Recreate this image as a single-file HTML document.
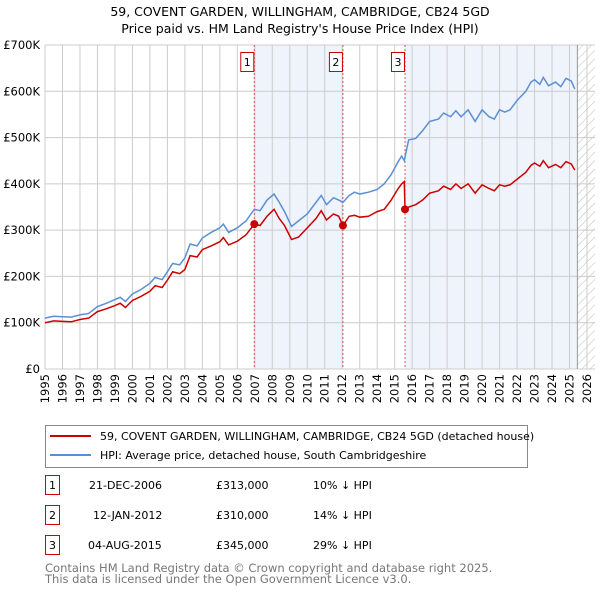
<!DOCTYPE html>
<html><head><meta charset="utf-8"><style>
body{margin:0;background:#fff;font-family:"Liberation Sans","DejaVu Sans",sans-serif;}
svg text{font-family:"DejaVu Sans","Liberation Sans",sans-serif;}
</style></head><body>
<svg id="chart" width="600" height="590" xmlns="http://www.w3.org/2000/svg">
<defs><pattern id="hatch" width="6" height="6" patternUnits="userSpaceOnUse" patternTransform="rotate(45)"><line x1="0" y1="0" x2="0" y2="6" stroke="#bbb" stroke-width="1"/></pattern></defs>
<text x="300" y="16" text-anchor="middle" font-size="12.5">59, COVENT GARDEN, WILLINGHAM, CAMBRIDGE, CB24 5GD</text>
<text x="300" y="33" text-anchor="middle" font-size="12.5">Price paid vs. HM Land Registry's House Price Index (HPI)</text>
<g id="plot"></g>
<g>
<rect x="45.5" y="425.5" width="482" height="42" fill="#fff" stroke="#888"/>
<line x1="50" y1="436" x2="91" y2="436" stroke="#cc0000" stroke-width="2"/>
<text x="100" y="440" font-size="11">59, COVENT GARDEN, WILLINGHAM, CAMBRIDGE, CB24 5GD (detached house)</text>
<line x1="50" y1="455" x2="91" y2="455" stroke="#5b8fd4" stroke-width="2"/>
<text x="100" y="459" font-size="11">HPI: Average price, detached house, South Cambridgeshire</text>
</g>
<g font-size="11">
<rect x="45.5" y="475.5" width="14" height="19" fill="none" stroke="#cc0000"/><text x="52.5" y="489" text-anchor="middle">1</text>
<text x="89" y="489">21-DEC-2006</text><text x="216" y="489">£313,000</text><text x="313" y="489">10% ↓ HPI</text>
<rect x="45.5" y="505.5" width="14" height="19" fill="none" stroke="#cc0000"/><text x="52.5" y="519" text-anchor="middle">2</text>
<text x="93" y="519">12-JAN-2012</text><text x="216" y="519">£310,000</text><text x="313" y="519">14% ↓ HPI</text>
<rect x="45.5" y="535.5" width="14" height="19" fill="none" stroke="#cc0000"/><text x="52.5" y="549" text-anchor="middle">3</text>
<text x="88" y="549">04-AUG-2015</text><text x="216" y="549">£345,000</text><text x="313" y="549">29% ↓ HPI</text>
</g>
<text x="45" y="572" font-size="11.5" fill="#777">Contains HM Land Registry data © Crown copyright and database right 2025.</text>
<text x="45" y="583" font-size="11.5" fill="#777">This data is licensed under the Open Government Licence v3.0.</text>
</svg>
<script>
const dates=[1995,1995.5,1996,1996.5,1997,1997.5,1998,1998.5,1999,1999.3,1999.6,2000,2000.5,2001,2001.3,2001.7,2002,2002.3,2002.7,2003,2003.3,2003.7,2004,2004.5,2005,2005.2,2005.5,2006,2006.5,2006.97,2007.3,2007.7,2008.1,2008.4,2008.7,2009.1,2009.5,2010,2010.5,2010.8,2011.1,2011.5,2011.8,2012.04,2012.4,2012.7,2013,2013.5,2014,2014.4,2014.8,2015.2,2015.4,2015.55,2015.59,2015.8,2016.2,2016.6,2017,2017.5,2017.8,2018.2,2018.5,2018.8,2019.2,2019.6,2020,2020.4,2020.7,2021,2021.3,2021.6,2022,2022.5,2022.8,2023,2023.3,2023.5,2023.8,2024.2,2024.5,2024.8,2025.1,2025.3];
const hpiValues=[110,114,113,112,117,120,135,142,150,155,146,162,172,185,198,193,210,228,225,240,270,266,283,295,305,313,295,305,320,345,342,365,378,360,340,308,320,335,360,375,355,370,365,360,375,382,378,382,388,400,420,448,460,450,458,495,498,515,535,540,553,545,558,545,560,535,560,545,540,560,555,560,580,600,620,625,615,630,612,620,610,628,622,605];
const priceValues=[100,104,103,102,107,110,124,130,137,142,133,148,157,168,180,176,192,210,206,215,245,242,258,266,275,284,268,276,290,313,310,330,345,325,310,280,285,305,325,342,322,335,330,310,330,332,328,330,340,345,365,390,400,405,345,350,355,365,380,385,395,388,400,390,400,380,398,390,385,398,395,398,410,425,440,445,438,450,435,442,435,448,443,430];
const saleDates=[2006.97,2012.04,2015.59];
const salePrices=[313,310,345];
const saleLabels=["1","2","3"];
const yTicks=[0,100,200,300,400,500,600,700];
const yTickLabels=["£0","£100K","£200K","£300K","£400K","£500K","£600K","£700K"];
const xTicks=[1995,1996,1997,1998,1999,2000,2001,2002,2003,2004,2005,2006,2007,2008,2009,2010,2011,2012,2013,2014,2015,2016,2017,2018,2019,2020,2021,2022,2023,2024,2025,2026];
const L=45,R=595,T=45,B=369;
const x=d=>L+(d-1995)*(587-45)/31;
const y=v=>B-v*(B-T)/700;
const NS="http://www.w3.org/2000/svg",g=document.getElementById('plot');
function mk(t,a){const e=document.createElementNS(NS,t);for(const k in a)e.setAttribute(k,a[k]);g.appendChild(e);return e;}
let e=mk('rect',{x:L,y:T,width:R-L,height:B-T,fill:'#fff'});


e=mk('rect',{x:x(saleDates[0]),y:T,width:x(saleDates[1])-x(saleDates[0]),height:B-T,fill:'#eef3fc'});


e=mk('rect',{x:x(saleDates[2]),y:T,width:x(2025.45)-x(saleDates[2]),height:B-T,fill:'#eef3fc'});


e=mk('rect',{x:x(2025.45),y:T,width:R-x(2025.45),height:B-T,fill:'url(#hatch)'});


xTicks.forEach(d=>{
 e=mk('line',{x1:x(d),x2:x(d),y1:T,y2:B,stroke:'#cccccc','stroke-width':1});
 
 
 const tx=x(d)+4,ty=374;
 e=mk('text',{x:tx,y:ty,'text-anchor':'end','font-size':11.5,transform:'rotate(-90 '+tx+' '+ty+')'});e.textContent=d;
 
 
});
yTicks.forEach((v,i)=>{
 e=mk('line',{x1:L,x2:R,y1:y(v),y2:y(v),stroke:'#cccccc','stroke-width':1});
 
 
 e=mk('text',{x:40,y:y(v)+4,'text-anchor':'end','font-size':11.5});e.textContent=yTickLabels[i];
 
 
});
e=mk('line',{x1:x(2025.45),x2:x(2025.45),y1:T,y2:B,stroke:'#999','stroke-width':1});


saleDates.forEach((d,i)=>{
 e=mk('line',{x1:x(d),x2:x(d),y1:T,y2:B,stroke:'#e05050','stroke-width':1,'stroke-dasharray':'2,2'});
 
 
 e=mk('rect',{x:x(d)-13.5,y:52.5,width:13,height:19,fill:'#fff',stroke:'#cc0000'});
 
 
 e=mk('text',{x:x(d)-7,y:66,'text-anchor':'middle','font-size':11});e.textContent=saleLabels[i];
 
 
});
e=mk('polyline',{points:dates.map((d,i)=>x(d)+','+y(hpiValues[i])).join(' '),fill:'none',stroke:'#5b8fd4','stroke-width':1.5});


e=mk('polyline',{points:dates.map((d,i)=>x(d)+','+y(priceValues[i])).join(' '),fill:'none',stroke:'#cc0000','stroke-width':1.5});


saleDates.forEach((d,i)=>{
 e=mk('circle',{cx:x(d),cy:y(salePrices[i]),r:4,fill:'#cc0000'});
 
 
});
</script>
</body></html>
